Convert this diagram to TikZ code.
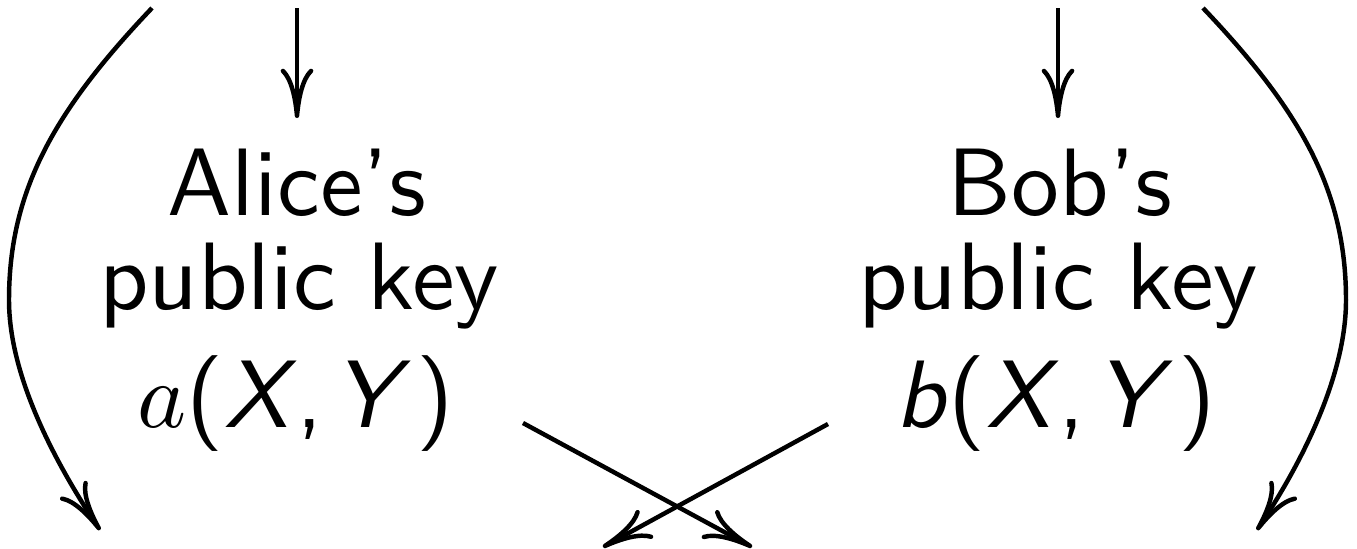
\documentclass[tikz,border=0pt]{standalone}
\usetikzlibrary{arrows.meta}
\begin{document}
\begin{tikzpicture}[x=0.1075pt,y=-0.1075pt,
  lbl/.style={anchor=base, inner sep=0pt, font=\sffamily\fontsize{10.3}{12}\selectfont},
  arr/.style={line width=0.48pt, -{Computer Modern Rightarrow[length=5.3pt,width=3.5pt]}}]
\useasboundingbox (0,0) rectangle (1357,548);
% labels
\node[lbl] (a1) at (297,215) {Alice’s};
\node[lbl] (a2) at (299,309) {public key};
\node[lbl] (a3) at (296,427) {$a$(\textit{X\/},\kern1.1pt\textit{Y\/}\kern0.6pt)};
\node[lbl] (b1) at (1060,215) {Bob’s};
\node[lbl] (b2) at (1058,309) {public key};
\node[lbl] (b3) at (1056,427) {\textit{b}(\textit{X\/},\kern1.1pt\textit{Y\/}\kern0.6pt)};
% coordinates
\coordinate (at) at (297,8);
\coordinate (ab) at (297,118);
\coordinate (bt) at (1058,8);
\coordinate (bb) at (1058,118);
\coordinate (lt) at (152,8);
\coordinate (lm) at (9,300);
\coordinate (lb) at (100,530);
\coordinate (rt) at (1203,8);
\coordinate (rm) at (1346,300);
\coordinate (rb) at (1257,530);
\coordinate (c1s) at (523,423);
\coordinate (c1e) at (752,547);
\coordinate (c2s) at (828,424);
\coordinate (c2e) at (603,547);
% arrows
\draw[arr] (at) -- (ab);
\draw[arr] (bt) -- (bb);
\draw[arr] (lt) .. controls (55,110) and (9,190) .. (lm) .. controls (9,380) and (60,470) .. (lb);
\draw[arr] (rt) .. controls (1300,110) and (1346,190) .. (rm) .. controls (1346,380) and (1297,470) .. (rb);
\draw[arr] (c1s) -- (c1e);
\draw[arr] (c2s) -- (c2e);
\end{tikzpicture}
\end{document}
